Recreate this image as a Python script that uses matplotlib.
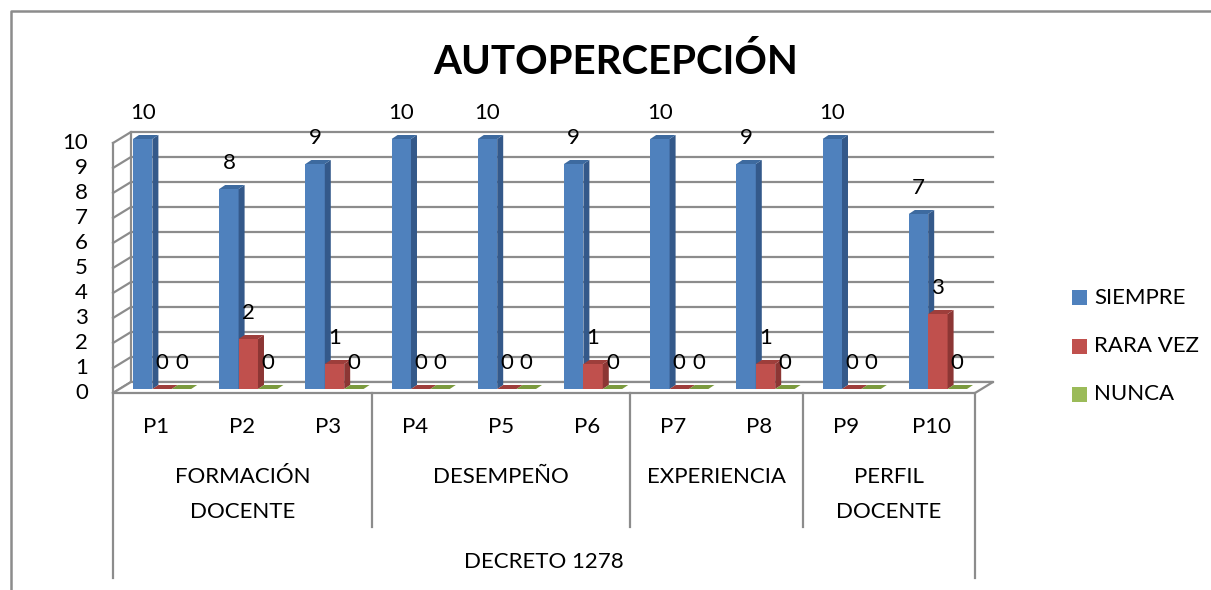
import matplotlib
matplotlib.use("Agg")
import matplotlib.pyplot as plt
from matplotlib.patches import Polygon, Rectangle
from matplotlib.lines import Line2D

plt.rcParams['font.family'] = ['Lato', 'DejaVu Sans']

# data
preguntas = ["P1", "P2", "P3", "P4", "P5", "P6", "P7", "P8", "P9", "P10"]
grupos = [("FORMACIÓN\nDOCENTE", 0, 3), ("DESEMPEÑO", 3, 6),
          ("EXPERIENCIA", 6, 8), ("PERFIL\nDOCENTE", 8, 10)]
decreto = "DECRETO 1278"
series = ["SIEMPRE", "RARA VEZ", "NUNCA"]
siempre = [10, 8, 9, 10, 10, 9, 10, 9, 10, 7]
rara_vez = [0, 2, 1, 0, 0, 1, 0, 1, 0, 3]
nunca = [0, 0, 0, 0, 0, 0, 0, 0, 0, 0]
valores = [siempre, rara_vez, nunca]

# colours: front, side, top
colores = [("#4F81BD", "#34598A", "#3D6A9F"),
           ("#C0504D", "#8C3634", "#9E3E3B"),
           ("#9BBB59", "#6F8C3A", "#7B9A3E")]
gris = "#8C8C8C"
fs = 16

W, H = 1211, 590
fig = plt.figure(figsize=(W / 100, H / 100), dpi=100)
# plot box: x 0..10 -> px 113..975, y 0..10 -> px 393..143
ax = fig.add_axes([113 / W, (H - 393) / H, (975 - 113) / W, (393 - 143) / H])
ax.set_xlim(0, 10)
ax.set_ylim(0, 10)
ax.axis("off")

DX, DY = 18 / 86.2, 0.44      # wall depth
ddx, ddy = 6 / 86.2, 0.16     # bar depth
yb = 0.16                     # bar base (mid depth)
bw = 0.225
off0 = 0.232

# back wall gridlines + left wall
for v in range(11):
    ax.add_line(Line2D([0, DX, 10 + DX], [v, v + DY, v + DY], color=gris,
                       lw=1.6, clip_on=False, zorder=1))
ax.add_line(Line2D([0, 0], [0, 10], color=gris, lw=1.6, clip_on=False, zorder=1))
ax.add_line(Line2D([DX, DX], [DY, 10 + DY], color=gris, lw=1.6, clip_on=False, zorder=1))
# floor
ax.add_patch(Polygon([(0, 0), (10, 0), (10 + DX, DY), (DX, DY)], closed=True,
                     facecolor="white", edgecolor=gris, lw=1.6, clip_on=False, zorder=1))

# bars
for i in range(len(preguntas)):
    for j, vals in enumerate(valores):
        v = vals[i]
        x0 = i + off0 + j * bw
        x1 = x0 + bw
        yt = yb + v
        front, side, top = colores[j]
        z = 2 + i * 0.01 + j * 0.001
        if v > 0:
            ax.add_patch(Rectangle((x0, yb), bw, v, facecolor=front, edgecolor="none",
                                   clip_on=False, zorder=z))
            ax.add_patch(Polygon([(x1, yb), (x1, yt), (x1 + ddx, yt + ddy), (x1 + ddx, yb + ddy)],
                                 closed=True, facecolor=side, edgecolor="none",
                                 clip_on=False, zorder=z))
        ax.add_patch(Polygon([(x0, yt), (x1, yt), (x1 + ddx, yt + ddy), (x0 + ddx, yt + ddy)],
                             closed=True, facecolor=top, edgecolor="none",
                             clip_on=False, zorder=z))
        ax.text(x0 + bw / 2, yt + 1.03, str(v), ha="center", va="center",
                fontsize=fs, color="black", zorder=5, clip_on=False)

# y tick labels
for v in range(11):
    ax.text(-0.29, v, str(v), ha="right", va="center", fontsize=fs, clip_on=False)

# category axis (multi-level)
for x in [0, 10]:
    ax.add_line(Line2D([x, x], [0, -7.4], color=gris, lw=1.6, clip_on=False))
for _, a, b in grupos[:-1]:
    ax.add_line(Line2D([b, b], [0, -5.36], color=gris, lw=1.6, clip_on=False))
for i, p in enumerate(preguntas):
    ax.text(i + 0.5, -1.36, p, ha="center", va="center", fontsize=fs, clip_on=False)
for nombre, a, b in grupos:
    for k, linea in enumerate(nombre.split("\n")):
        ax.text((a + b) / 2, -3.36 - 1.4 * k, linea, ha="center", va="center",
                fontsize=fs, clip_on=False)
ax.text(5, -6.76, decreto, ha="center", va="center", fontsize=fs, clip_on=False)

# title
fig.text(616 / W, 1 - 62 / H, "AUTOPERCEPCIÓN", ha="center", va="center",
         fontsize=29, fontweight="bold")

# legend
for k, (nombre, c) in enumerate(zip(series, colores)):
    yc = 297.5 + 48.5 * k
    fig.patches.append(Rectangle((1072 / W, 1 - (yc + 7.5) / H), 15 / W, 15 / H,
                                 transform=fig.transFigure, facecolor=c[0],
                                 edgecolor="none"))
    fig.text(1094 / W, 1 - yc / H, nombre, ha="left", va="center", fontsize=fs)

# chart border (cropped)
fig.add_artist(Line2D([11 / W, 11 / W, 1], [0, 1 - 11 / H, 1 - 11 / H],
                      transform=fig.transFigure, color=gris, lw=1.8))

fig.savefig("out.png", dpi=100, facecolor="white")
